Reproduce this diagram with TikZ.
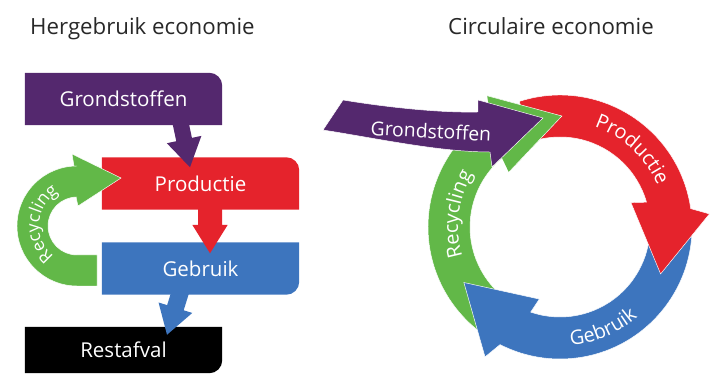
\documentclass[tikz,border=0pt]{standalone}
\usepackage{fontspec}
\setmainfont{Open Sans}
\usetikzlibrary{calc,decorations.text}

\pgfdeclarelayer{background}
\pgfsetlayers{background,main}

\definecolor{paars}{RGB}{84,40,110}
\definecolor{rood}{RGB}{229,35,44}
\definecolor{blauw}{RGB}{61,117,190}
\definecolor{groen}{RGB}{98,184,72}
\definecolor{kopgrijs}{RGB}{40,40,40}

\tikzset{
  vak/.style={minimum width=5.91cm, minimum height=1.56cm, inner sep=0pt, text=white, font=\fontsize{17.5}{18}\selectfont},
  kop/.style={anchor=base west, inner sep=0pt, text=kopgrijs, font=\fontsize{19}{20}\selectfont},
  rand/.style={draw=white, line width=0.4pt},
  ringtekst/.style={decorate, decoration={text along path, text align=center, text color=white, text={|\fontsize{17}{17}\selectfont|#1}}},
}

% block arrow: colour, from, to, half width of the shaft
\newcommand{\blokpijl}[4]{%
  \coordinate (pijlkop) at ($(#3)!0.85cm!(#2)$);
  \fill[#1] ($(#2)!#4!-90:(#3)$) -- ($(pijlkop)!#4!-90:(#3)$) -- ($(pijlkop)!0.53cm!-90:(#3)$) -- (#3)
    -- ($(pijlkop)!0.53cm!90:(#3)$) -- ($(pijlkop)!#4!90:(#3)$) -- ($(#2)!#4!90:(#3)$) -- cycle;
}

% arrow on the ring: colour, start angle, angle of the head
\newcommand{\ringpijl}[3]{%
  \fill[#1, rand] (#2:132) arc[start angle=#2, end angle={#3-4}, radius=132] -- ({#3-7}:150) -- ({#3-37}:111)
    -- ({#3+7}:75) -- ({#3+4}:90) arc[start angle={#3+4}, end angle=#2, radius=90] -- cycle;
}

\begin{document}
\begin{tikzpicture}[x=0.03cm, y=0.03cm]
\useasboundingbox (0,0) rectangle (711,375);

%titles
\node[kop] (kop1) at (30,340) {Hergebruik economie};
\node[kop] (kop2) at (448,340) {Circulaire economie};

%Grondstoffen box
\node[vak] (grond) at (123.5,276) {Grondstoffen};

%Productie box
\node[vak] (prod) at (200.5,191.5) {Productie};

%Gebruik box
\node[vak] (gebr) at (200.5,106.5) {Gebruik};

%Restafval box
\node[vak, minimum height=1.38cm] (rest) at (123.5,25) {Restafval};

\coordinate (g1) at ($(grond.south)+(56.5,5)$);
\coordinate (g2) at ($(prod.north)+(-10.5,-10)$);
\coordinate (p1) at ($(prod.south)+(9.5,10)$);
\coordinate (p2) at ($(gebr.north)+(9.5,-11)$);
\coordinate (b1) at ($(gebr.south)+(-19.5,5)$);
\coordinate (b2) at ($(rest.north)+(43.5,-8)$);

\begin{pgfonlayer}{background}
\fill[paars] (grond.south west) -- (grond.south east) -- ($(grond.north east)+(0,-13)$) arc[start angle=0, end angle=90, radius=13] -- (grond.north west) -- cycle;
\fill[rood] (prod.south west) -- (prod.south east) -- ($(prod.north east)+(0,-13)$) arc[start angle=0, end angle=90, radius=13] -- (prod.north west) -- cycle;
\fill[blauw] (gebr.north west) -- (gebr.north east) -- ($(gebr.south east)+(0,13)$) arc[start angle=0, end angle=-90, radius=13] -- (gebr.south west) -- cycle;
\fill[black] (rest.north west) -- (rest.north east) -- ($(rest.south east)+(0,13)$) arc[start angle=0, end angle=-90, radius=13] -- (rest.south west) -- cycle;

\blokpijl{paars}{g1}{g2}{0.24cm}
\blokpijl{rood}{p1}{p2}{0.36cm}
\blokpijl{blauw}{b1}{b2}{0.26cm}

%recycling loop
\fill[groen, rand] (97,89) -- (77,89) arc[start angle=270, end angle=90, radius=60] -- (74,209) -- (72,221) -- (121,197)
  -- (78,169) -- (76,178) -- (77,178) arc[start angle=90, end angle=270, radius=29] -- (97,120) -- cycle;
\end{pgfonlayer}

\path[decorate, decoration={text along path, text align=center, text color=white, text={|\fontsize{15}{15}\selectfont|Recycling}}]
  ([shift={(238:38)}]77,149) arc[start angle=238, end angle=114, radius=38];

%circle
\begin{scope}[shift={(560,148)}]
\ringpijl{groen}{232}{126}
\ringpijl{blauw}{5}{-113}
\ringpijl{rood}{108}{12}
% green head again, over the start of the red one
\fill[groen] (122:132) -- (119:150) -- (89:111) -- (133:75) -- (130:90) -- cycle;
\draw[white, line width=0.4pt] (119:150) -- (89:111) -- (133:75);

\path[ringtekst=Productie] (97:106) arc[start angle=97, end angle=-3, radius=106];
\path[ringtekst=Gebruik] (-117:119) arc[start angle=-117, end angle=-17, radius=119];
\path[ringtekst=Recycling] (218:102) arc[start angle=218, end angle=128, radius=102];
\end{scope}

%Grondstoffen arrow
\fill[paars, rand] (343,275) .. controls (385,268) and (440,262) .. (478,263) -- (478,275) -- (543,257) -- (492,208)
  -- (490,223) .. controls (440,223) and (380,236) .. (323,245) -- cycle;
\node[text=white, font=\fontsize{16.5}{17}\selectfont, rotate=-3] (grond2) at (431,244) {Grondstoffen};

\end{tikzpicture}
\end{document}
